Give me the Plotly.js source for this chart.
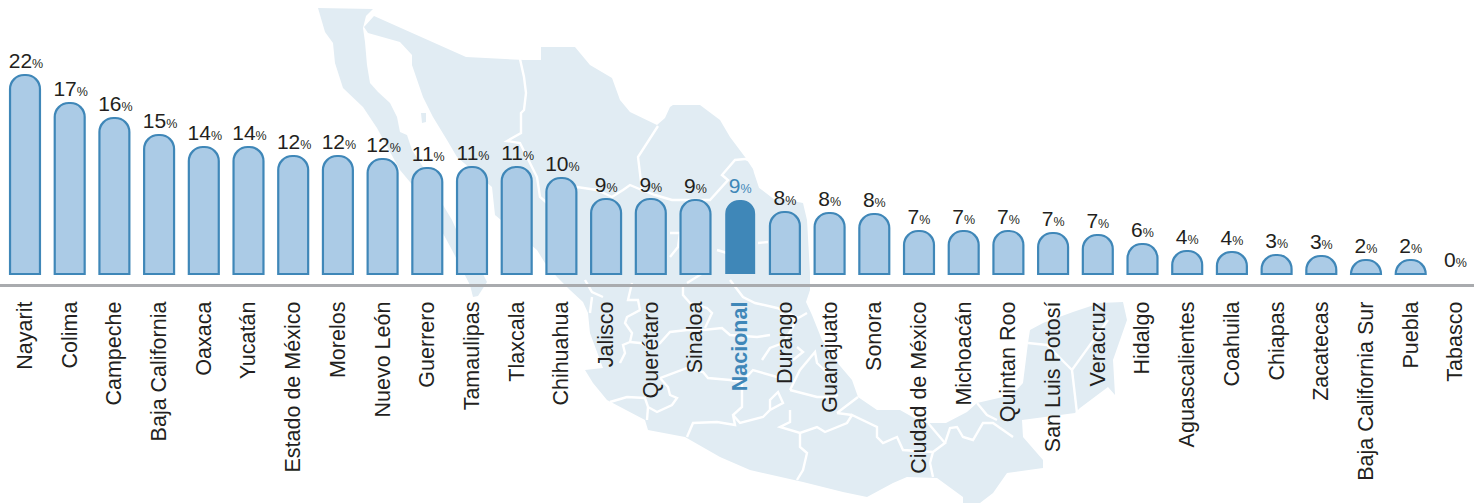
<!DOCTYPE html>
<html><head><meta charset="utf-8">
<script src="https://cdn.plot.ly/plotly-3.0.1.min.js"></script>
<style>html,body{margin:0;padding:0;background:#fff}#c{width:1482px;height:503px}</style>
</head><body><div id="c"></div>
<script>
const states = ["Nayarit","Colima","Campeche","Baja California","Oaxaca","Yucatán","Estado de México","Morelos","Nuevo León","Guerrero","Tamaulipas","Tlaxcala","Chihuahua","Jalisco","Querétaro","Sinaloa","Nacional","Durango","Guanajuato","Sonora","Ciudad de México","Michoacán","Quintan Roo","San Luis Potosí","Veracruz","Hidalgo","Aguascalientes","Coahuila","Chiapas","Zacatecas","Baja California Sur","Puebla","Tabasco"];
const printedPercent = [22,17,16,15,14,14,12,12,12,11,11,11,10,9,9,9,9,8,8,8,7,7,7,7,7,6,4,4,3,3,2,2,0];
const barHeights = [199,171,156,139,127,127,118,118,115,106,107,107,96,75,75,74,74,62,61,60,43,43,43,41,39,30,23,22,19,18,14,14,0];
const HIGHLIGHT = "Nacional";

// Decorative map backdrop, traced in picture pixels
const mapBaja = [[318,8],[373,9],[366,16],[363,28],[365,42],[367,65],[370,83],[378,92],[390,103],[397,117],[400,132],[407,135],[412,150],[425,170],[440,200],[452,220],[465,250],[480,268],[487,282],[478,296],[473,297],[470,285],[452,250],[425,200],[400,170],[377,128],[363,107],[343,88],[335,63],[333,43],[325,32]];
const mapMain = [[374,16],[466,57],[524,60],[541,60],[541,47],[575,47],[590,65],[612,78],[620,100],[630,112],[657,125],[665,118],[670,107],[673,105],[700,105],[720,120],[730,137],[745,157],[755,172],[760,188],[777,198],[803,203],[807,220],[810,273],[810,290],[806,302],[812,315],[822,340],[835,360],[852,380],[858,397],[877,410],[900,410],[923,423],[946,423],[967,412],[977,403],[990,400],[1012,395],[1023,383],[1028,343],[1030,330],[1043,323],[1073,312],[1100,303],[1123,302],[1127,320],[1113,360],[1115,395],[1108,387],[1080,408],[1075,413],[1022,420],[1023,437],[1043,460],[1043,468],[1007,473],[993,493],[980,503],[963,503],[963,497],[937,478],[907,477],[893,483],[867,497],[843,492],[803,482],[750,470],[720,457],[685,437],[648,430],[645,420],[607,400],[593,383],[585,370],[603,368],[600,360],[590,333],[588,313],[583,302],[570,290],[557,277],[545,263],[537,250],[495,215],[492,187],[457,157],[447,140],[433,117],[423,97],[412,65],[412,55],[400,42],[368,33],[364,27]];
const mapIsland = [[421,113],[426,113],[426,122],[422,123]];
const mapBorders = [
 [[520,59],[524,77],[526,93],[524,110],[521,113],[521,133],[507,141],[520,143],[537,177],[540,197],[547,203],[577,187],[597,190],[612,197],[623,190],[630,185],[642,190],[638,157],[658,126]],
 [[642,190],[655,195],[672,200],[690,200],[710,200],[728,180],[722,175],[735,160],[745,159],[753,162],[755,172],[760,187],[777,200]],
 [[758,243],[768,242]],[[670,233],[680,233],[678,247],[670,257]],[[717,250],[727,253]],[[703,273],[687,283]],
 [[585,280],[592,292],[603,297]],[[592,297],[590,313]],
 [[632,283],[628,300],[638,300],[640,310],[627,317],[625,323],[632,333],[630,342],[623,345],[625,353],[620,363]],
 [[630,342],[640,343],[653,348],[660,343],[670,332],[687,330],[703,330],[722,328],[730,335],[757,337],[770,335]],
 [[683,287],[683,295],[690,303],[707,308],[712,313],[705,328]],
 [[730,280],[743,297],[755,303],[777,308],[797,317],[793,327],[783,343],[770,348],[762,360]],
 [[660,378],[687,368],[703,372],[708,378],[730,380],[742,382],[753,370],[777,377]],
 [[660,378],[668,387],[670,395],[677,398],[672,405],[657,412],[648,407],[645,398],[627,397],[610,402]],
 [[648,407],[647,420]],
 [[742,382],[742,407],[733,415],[735,425],[717,422],[693,423],[687,437]],
 [[733,415],[740,423],[763,417],[770,410],[783,403],[778,392],[770,400],[770,410]],
 [[790,410],[790,422],[780,427],[800,433],[817,427],[825,432],[847,423],[852,415],[877,427],[877,437],[883,443],[897,437],[903,450],[933,452],[945,443],[928,423]],
 [[837,413],[858,397]],[[837,413],[852,415]],
 [[800,433],[800,447],[807,453],[803,470],[797,480]],
 [[933,452],[930,463],[933,477]],
 [[945,443],[950,428],[957,427],[963,437],[973,440],[983,423],[993,423],[1013,437]],
 [[977,403],[987,415],[997,420]],
 [[790,390],[817,397],[833,397],[838,395]],
 [[790,390],[800,370],[815,352],[817,363],[835,380]],
 [[793,360],[803,352],[797,347]],[[780,313],[795,320],[807,313]],
 [[1028,343],[1047,345],[1072,370],[1108,320]],[[1072,370],[1077,413]]
];

const W = 1474, H = 284, STEP = 44.7, FIRST = 25;
const pathOf = (pts, close) => pts.map((p,i)=>(i?"L":"M")+(p[0]/W).toFixed(5)+","+((H-p[1])/H).toFixed(5)).join(" ")+(close?" Z":"");
const fillShape = pts => ({type:"path",xref:"paper",yref:"paper",layer:"below",path:pathOf(pts,true),fillcolor:"#e1ecf3",line:{width:0}});
const lineShape = pts => ({type:"path",xref:"paper",yref:"paper",layer:"below",path:pathOf(pts,false),fillcolor:"rgba(0,0,0,0)",line:{color:"#ffffff",width:2.4}});

const BLUE = "#3f87b8", LIGHT = "#abcbe6";
const isH = s => s === HIGHLIGHT;
const trace = {
  type:"bar", x:states, y:barHeights, width:0.67,
  marker:{
    color:states.map(s=>isH(s)?BLUE:LIGHT),
    line:{color:BLUE,width:states.map((s,i)=>(isH(s)||barHeights[i]===0)?0:2.2)},
    cornerradius:14
  },
  text:printedPercent.map(v=>(v>=10?'<span style="font-size:7px">\u00a0</span>':'')+v+'<span style="font-size:12.5px">%</span>'),
  textposition:"outside", textangle:0, cliponaxis:false, constraintext:"none",
  textfont:{family:"Liberation Sans, Arial, sans-serif",size:21,color:states.map(s=>isH(s)?BLUE:"#231f20")},
  hoverinfo:"skip"
};
const layout = {
  width:1482,height:503,
  margin:{l:0,r:8,t:0,b:219,pad:0},
  paper_bgcolor:"#fff",plot_bgcolor:"rgba(0,0,0,0)",
  showlegend:false,
  xaxis:{type:"category",range:[-FIRST/STEP,(W-FIRST)/STEP],categoryorder:"array",categoryarray:states,
    tickmode:"array",tickvals:states,
    ticktext:states.map(s=>isH(s)?'<b><span style="color:'+BLUE+'">'+s+'</span></b>':s),
    tickangle:-90,ticks:"",ticklabelstandoff:6,showgrid:false,zeroline:false,
    showline:true,linecolor:"#a9abae",linewidth:3,
    tickfont:{family:"Liberation Sans, Arial, sans-serif",size:21.5,color:"#231f20"}},
  yaxis:{range:[-10,274],visible:false,showgrid:false,zeroline:false},
  shapes:[fillShape(mapBaja),fillShape(mapMain),fillShape(mapIsland)].concat(mapBorders.map(lineShape))
};
Plotly.newPlot("c",[trace],layout,{displayModeBar:false,staticPlot:true});
</script></body></html>
